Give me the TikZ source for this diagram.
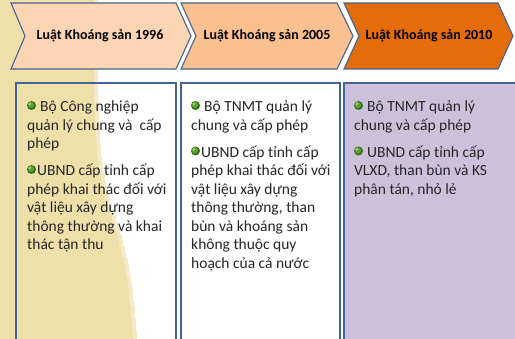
\documentclass[tikz,border=0pt]{standalone}
\usepackage{fontspec}
\setmainfont{Carlito}
\usetikzlibrary{calc}
\definecolor{tanbg}{RGB}{239,223,169}
\definecolor{tanfringe}{RGB}{245,234,200}
\definecolor{chevA}{RGB}{252,213,181}
\definecolor{chevB}{RGB}{250,192,144}
\definecolor{chevC}{RGB}{228,108,10}
\definecolor{edgeblue}{RGB}{70,100,145}
\definecolor{lavender}{RGB}{204,192,218}
\definecolor{balldark}{RGB}{55,110,30}
\definecolor{ballmid}{RGB}{95,160,50}
\definecolor{balllight}{RGB}{170,215,120}
\tikzset{
  chevron/.style={draw=edgeblue, line width=1.1pt, line join=miter},
  colbox/.style={draw=edgeblue, line width=1.4pt},
  title/.style={font=\bfseries\fontsize{14}{16.8}\selectfont, text=black, inner sep=0pt},
  body/.style={font=\fontsize{15.5}{18.5}\selectfont, align=left, anchor=base west, inner sep=0pt, text=black!85},
  gbullet/.style={circle, minimum size=9pt, inner sep=0pt, fill=balldark}
}
\newcommand{\ballhi}[1]{\fill[ballmid] ($(#1.center)+(-0.6,-0.6)$) circle (3.2pt);
  \fill[balllight] ($(#1.center)+(-1.6,-1.6)$) circle (1.3pt);}
\begin{document}
\begin{tikzpicture}[x=1pt,y=-1pt]
\useasboundingbox (0,0) rectangle (515,339);
% background: white page with a curved tan band on the left, built from thin strips
\fill[white] (0,0) rectangle (515,339);
\foreach \ya/\yb/\xx in {0/90/94, 90/96/94.2, 96/102/94.4, 102/108/94.6, 108/114/94.8,
  114/120/95, 120/126/95.3, 126/132/95.7, 132/138/96, 138/144/96.4, 144/150/96.8,
  150/156/97.4, 156/162/98.2, 162/168/99, 168/174/99.8, 174/180/100.6, 180/186/101.7,
  186/192/103.1, 192/198/104.6, 198/204/106, 204/210/107.9, 210/216/110, 216/222/112,
  222/228/114.1, 228/234/115.8, 234/240/117.5, 240/246/119.2, 246/252/121.2,
  252/258/122.4, 258/264/123.6, 264/270/124.8, 270/276/125.8, 276/282/126.9,
  282/288/127.7, 288/294/128.5, 294/300/129.3, 300/306/130, 306/312/130.7,
  312/318/131.3, 318/324/131.8, 324/330/132.4, 330/339/133}{
  \fill[tanbg] (0,\ya) rectangle (\xx,\yb+0.6);
  \fill[tanfringe] (\xx,\ya) rectangle (\xx+4,\yb+0.6);
}
% chevrons
\draw[chevron, fill=chevA] (11,3) -- (176,3) -- (191,36) -- (176,69) -- (11,69) -- (25,36) -- cycle;
\draw[chevron, fill=chevB] (181,3) -- (337,3) -- (353,36) -- (337,69) -- (181,69) -- (196,36) -- cycle;
\draw[chevron, fill=chevC] (344,3) -- (498,3) -- (513,36) -- (498,69) -- (344,69) -- (359,36) -- cycle;
\node[title] (t1) at (100,36) {Luật Khoáng sản 1996};
\node[title] (t2) at (267,36) {Luật Khoáng sản 2005};
\node[title] (t3) at (429,36) {Luật Khoáng sản 2010};
% box fills
\fill[white] (181,83) rectangle (340,339);
\fill[lavender] (344,83) rectangle (515,339);
% bullets
\node[gbullet] (p11) at (31.5,105.5) {};
\node[gbullet] (p12) at (31.5,169.5) {};
\node[gbullet] (p21) at (195.5,105.5) {};
\node[gbullet] (p22) at (195.5,151) {};
\node[gbullet] (p31) at (358.5,105.5) {};
\node[gbullet] (p32) at (358.5,151) {};
\ballhi{p11}\ballhi{p12}\ballhi{p21}\ballhi{p22}\ballhi{p31}\ballhi{p32}
% texts (anchored at the baseline of the last line)
\node[body] (b1) at (27,250) {\hspace*{13pt}Bộ Công nghiệp\\quản lý chung và\ \ cấp\\phép\\[8.5pt]\hspace*{10pt}UBND cấp tỉnh cấp\\phép khai thác đối với\\vật liệu xây dựng\\thông thường và khai\\thác tận thu};
\node[body] (b2) at (191,268.5) {\hspace*{13pt}Bộ TNMT quản lý\\chung và cấp phép\\[8.5pt]\hspace*{10pt}UBND cấp tỉnh cấp\\phép khai thác đối với\\vật liệu xây dựng\\thông thường, than\\bùn và khoáng sản\\không thuộc quy\\hoạch của cả nước};
\node[body] (b3) at (354,194.5) {\hspace*{13pt}Bộ TNMT quản lý\\chung và cấp phép\\[8.5pt]\hspace*{13pt}UBND cấp tỉnh cấp\\VLXD, than bùn và KS\\phân tán, nhỏ lẻ};
% box borders
\draw[colbox] (16,339) -- (16,83) -- (176,83) -- (176,339);
\draw[colbox] (181,339) -- (181,83) -- (340,83) -- (340,339);
\draw[colbox] (344,339) -- (344,83) -- (515,83);
\end{tikzpicture}
\end{document}
